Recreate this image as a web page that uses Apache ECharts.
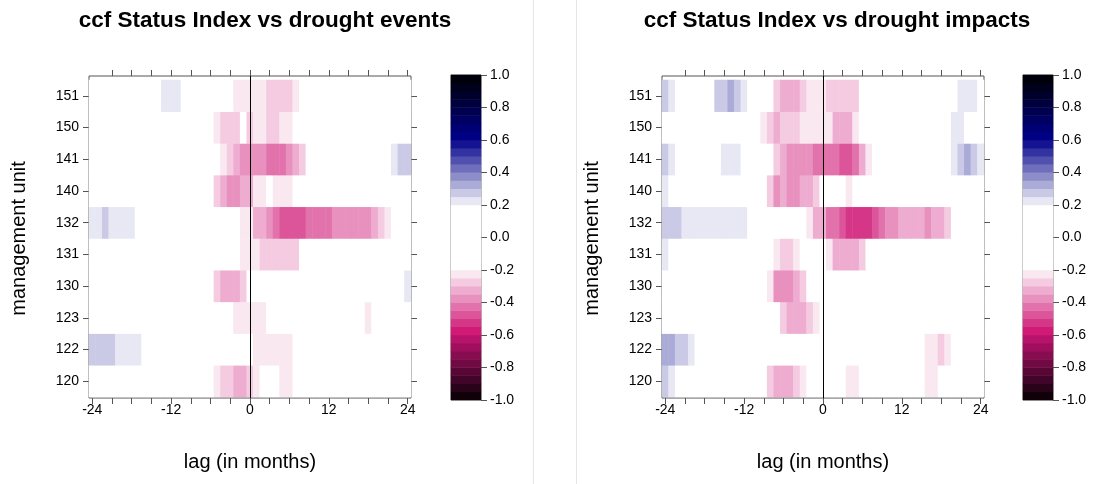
<!DOCTYPE html>
<html>
<head>
<meta charset="utf-8">
<title>ccf Status Index vs drought</title>
<script src="https://cdn.jsdelivr.net/npm/echarts@6/dist/echarts.min.js"></script>
<style>
  html, body { margin: 0; padding: 0; background: #fff; }
  #main { width: 1098px; height: 484px; }
</style>
</head>
<body>
<div id="main"></div>
<script>
// lag in months (x categories) and management units (y categories, bottom -> top)
var lags = ['-24','-23','-22','-21','-20','-19','-18','-17','-16','-15','-14','-13','-12','-11','-10',
            '-9','-8','-7','-6','-5','-4','-3','-2','-1','0','1','2','3','4','5','6','7','8','9','10',
            '11','12','13','14','15','16','17','18','19','20','21','22','23','24'];
var units = ['120', '122', '123', '130', '131', '132', '140', '141', '150', '151'];

// colour key breaks (-1 .. 1 in 0.05 steps)
var levelBreaks = [-1, -0.95, -0.9, -0.85, -0.8, -0.75, -0.7, -0.65, -0.6, -0.55, -0.5, -0.45, -0.4,
                   -0.35, -0.3, -0.25, -0.2, -0.15, -0.1, -0.05, 0, 0.05, 0.1, 0.15, 0.2, 0.25, 0.3,
                   0.35, 0.4, 0.45, 0.5, 0.55, 0.6, 0.65, 0.7, 0.75, 0.8, 0.85, 0.9, 0.95, 1];

// ccf values, one row per unit, lag -24 .. 24 (|r| < 0.2 drawn white)
var events151 = [0,0,0,0,0,0,0, 0,0,0,0,0.22,0.22,0.22, 0,0,0,0,0,0,0,
  0,-0.22,-0.22,-0.22,-0.22,-0.22,-0.27, -0.27,-0.27,-0.27,-0.22,0,0,0, 0,0,0,0,0,0,0, 0,0,0,0,0,0,0];
var events150 = [0,0,0,0,0,0,0, 0,0,0,0,0,0,0, 0,0,0,0,0,-0.22,-0.27,
  -0.27,-0.27,0,-0.27,-0.22,-0.22,-0.27, -0.27,-0.22,-0.22,0,0,0,0, 0,0,0,0,0,0,0, 0,0,0,0,0,0,0];
var events141 = [0,0,0,0,0,0,0, 0,0,0,0,0,0,0, 0,0,0,0,0,0,-0.22,
  -0.27,-0.32,-0.37,-0.37,-0.37,-0.37,-0.42, -0.42,-0.42,-0.37,-0.32,-0.27,0,0, 0,0,0,0,0,0,0, 0,0,0,0,0.22,0.27,0.27];
var events140 = [0,0,0,0,0,0,0, 0,0,0,0,0,0,0, 0,0,0,0,0,-0.27,-0.32,
  -0.37,-0.37,-0.32,-0.32,-0.22,-0.22,0, -0.22,-0.22,-0.22,0,0,0,0, 0,0,0,0,0,0,0, 0,0,0,0,0,0,0];
var events132 = [0.22,0.22,0.27,0.22,0.22,0.22,0.22, 0,0,0,0,0,0,0, 0,0,0,0,0,0,0,
  0,0,-0.22,-0.22,-0.32,-0.32,-0.37, -0.42,-0.47,-0.47,-0.47,-0.47,-0.42,-0.42,
  -0.42,-0.42,-0.37,-0.37,-0.37,-0.37,-0.37, -0.37,-0.32,-0.27,-0.22,0,0,0];
var events131 = [0,0,0,0,0,0,0, 0,0,0,0,0,0,0, 0,0,0,0,0,0,0,
  0,0,-0.22,-0.22,-0.22,-0.27,-0.27, -0.27,-0.27,-0.27,-0.27,0,0,0, 0,0,0,0,0,0,0, 0,0,0,0,0,0,0];
var events130 = [0,0,0,0,0,0,0, 0,0,0,0,0,0,0, 0,0,0,0,0,-0.27,-0.32,
  -0.32,-0.32,-0.27,0,0,0,0, 0,0,0,0,0,0,0, 0,0,0,0,0,0,0, 0,0,0,0,0,0,0.22];
var events123 = [0,0,0,0,0,0,0, 0,0,0,0,0,0,0, 0,0,0,0,0,0,0,
  0,-0.22,-0.22,-0.22,-0.22,-0.22,0, 0,0,0,0,0,0,0, 0,0,0,0,0,0,0, -0.22,0,0,0,0,0,0];
var events122 = [0.27,0.27,0.27,0.27,0.22,0.22,0.22, 0.22,0,0,0,0,0,0, 0,0,0,0,0,0,0,
  0,0,0,0,-0.22,-0.22,-0.22, -0.22,-0.22,-0.22,0,0,0,0, 0,0,0,0,0,0,0, 0,0,0,0,0,0,0];
var events120 = [0,0,0,0,0,0,0, 0,0,0,0,0,0,0, 0,0,0,0,0,-0.22,-0.27,
  -0.27,-0.32,-0.32,-0.27,-0.22,0,0, 0,-0.22,-0.22,0,0,0,0, 0,0,0,0,0,0,0, 0,0,0,0,0,0,0];

var impacts151 = [0.27,0.22,0,0,0,0,0, 0,0.27,0.27,0.32,0.27,0.22,0, 0,0,0,-0.27,-0.32,-0.32,-0.32,
  -0.27,-0.22,-0.22,-0.22,-0.27,-0.27,-0.27, -0.27,-0.27,0,0,0,0,0, 0,0,0,0,0,0,0, 0,0,0,0.22,0.22,0.22,0];
var impacts150 = [0,0,0,0,0,0,0, 0,0,0,0,0,0,0, 0,-0.22,-0.27,-0.32,-0.27,-0.27,-0.27,
  -0.22,-0.22,-0.22,-0.22,-0.22,-0.32,-0.32, -0.32,-0.22,0,0,0,0,0, 0,0,0,0,0,0,0, 0,0,0.22,0.22,0,0,0];
var impacts141 = [0.27,0.22,0,0,0,0,0, 0,0,0.22,0.22,0.22,0,0, 0,0,0,-0.27,-0.32,-0.37,-0.37,
  -0.37,-0.37,-0.42,-0.42,-0.42,-0.42,-0.47, -0.47,-0.42,-0.32,-0.22,0,0,0, 0,0,0,0,0,0,0, 0,0,0.22,0.27,0.32,0.27,0.22];
var impacts140 = [0.22,0,0,0,0,0,0, 0,0,0,0,0,0,0, 0,0,-0.27,-0.37,-0.32,-0.37,-0.37,
  -0.32,-0.32,-0.27,0,0,0,0, -0.22,0,0,0,0,0,0, 0,0,0,0,0,0,0, 0,0,0,0,0,0,0];
var impacts132 = [0.27,0.27,0.27,0.22,0.22,0.22,0.22, 0.22,0.22,0.22,0.22,0.22,0.22,0, 0,0,0,0,0,0,0,
  0,-0.22,-0.32,-0.32,-0.42,-0.42,-0.47, -0.52,-0.52,-0.52,-0.52,-0.47,-0.42,-0.37,
  -0.37,-0.32,-0.32,-0.32,-0.32,-0.37,-0.32, -0.32,-0.27,0,0,0,0,0];
var impacts131 = [0.22,0,0,0,0,0,0, 0,0,0,0,0,0,0, 0,0,0,-0.22,-0.27,-0.27,-0.22,
  0,0,0,0,-0.22,-0.32,-0.32, -0.32,-0.32,-0.27,0,0,0,0, 0,0,0,0,0,0,0, 0,0,0,0,0,0,0];
var impacts130 = [0,0,0,0,0,0,0, 0,0,0,0,0,0,0, 0,0,-0.22,-0.37,-0.37,-0.37,-0.32,
  -0.27,0,0,0,0,0,0, 0,0,0,0,0,0,0, 0,0,0,0,0,0,0, 0,0,0,0,0,0,0];
var impacts123 = [0,0,0,0,0,0,0, 0,0,0,0,0,0,0, 0,0,0,0,-0.27,-0.32,-0.32,
  -0.32,-0.27,-0.22,0,0,0,0, 0,0,0,0,0,0,0, 0,0,0,0,0,0,0, 0,0,0,0,0,0,0];
var impacts122 = [0.32,0.32,0.27,0.27,0.22,0,0, 0,0,0,0,0,0,0, 0,0,0,0,0,0,0,
  0,0,0,0,0,0,0, 0,0,0,0,0,0,0, 0,0,0,0,0,-0.22,-0.22, -0.27,-0.22,0,0,0,0,0];
var impacts120 = [0.27,0.22,0,0,0,0,0, 0,0,0,0,0,0,0, 0,0,-0.27,-0.32,-0.32,-0.32,-0.27,
  -0.22,0,0,0,0,0,0, -0.22,-0.22,0,0,0,0,0, 0,0,0,0,0,-0.22,-0.22, 0,0,0,0,0,0,0];

var eventsRows = [events120, events122, events123, events130, events131, events132, events140, events141, events150, events151];
var impactsRows = [impacts120, impacts122, impacts123, impacts130, impacts131, impacts132, impacts140, impacts141, impacts150, impacts151];

// one colour per 0.05 band, from -1 up to 1
var levelColors = [
  '#100109', '#28031a', '#400528', '#580735', '#700a42', '#880c50', '#a00f5d', '#b8136a',
  '#d01a76', '#d63687', '#dc5499', '#e272ab', '#e890be', '#eeadd0', '#f4cbe1', '#fae8f1',
  '#ffffff', '#ffffff', '#ffffff', '#ffffff', '#ffffff', '#ffffff', '#ffffff', '#ffffff',
  '#e8e8f4', '#cacae6', '#ababd8', '#8d8dca', '#6e6ebc', '#5050ae', '#3232a0', '#141492',
  '#000084', '#000074', '#000062', '#000050', '#00003e', '#00002c', '#00001a', '#00000a'
];

var myChart = echarts.init(document.getElementById('main'), null, {renderer: 'canvas'});

var fontFamily = 'Liberation Sans, Arial, Helvetica, sans-serif';
var axisGray = '#555555';

var heatData = function (rows) {
    var out = [];
    rows.forEach(function (row, y) {
        row.forEach(function (v, x) {
            out.push([x, y, v]);
        });
    });
    return out;
};

// colour key as its own little heatmap
var levelNames = [], keyData = [];
for (var k = 0; k < levelColors.length; k++) {
    levelNames.push(String(levelBreaks[k]));
    keyData.push([0, k, (levelBreaks[k] + levelBreaks[k + 1]) / 2]);
}

var pieces = levelColors.map(function (c, i) {
    var p = {gte: levelBreaks[i], color: c};
    if (i === levelColors.length - 1) p.lte = levelBreaks[i + 1];
    else p.lt = levelBreaks[i + 1];
    return p;
});

var panels = [
    {title: 'ccf Status Index vs drought events', rows: eventsRows, left: 89, keyLeft: 451, titleX: 260},
    {title: 'ccf Status Index vs drought impacts', rows: impactsRows, left: 662, keyLeft: 1023, titleX: 832}
];

var grid = [], xAxis = [], yAxis = [], series = [], title = [], heatIdx = [];

var labelStyle = {color: '#000', fontSize: 14, fontFamily: fontFamily};
var nameStyle = {color: '#000', fontSize: 20, fontFamily: fontFamily};
var tick = {show: true, alignWithLabel: true, length: 6, lineStyle: {color: axisGray, width: 1}};

panels.forEach(function (p) {
    var g = grid.length, xa = xAxis.length, ya = yAxis.length;

    title.push({
        text: p.title, left: p.titleX, top: 4, textAlign: 'center',
        textStyle: {color: '#000', fontSize: 22.5, fontWeight: 'bold', fontFamily: fontFamily}
    });

    grid.push({left: p.left, top: 80, width: 322, height: 317});
    grid.push({left: p.left, top: 76, width: 322, height: 322, show: true,
        borderColor: axisGray, borderWidth: 1, backgroundColor: 'transparent'});
    grid.push({left: p.keyLeft, top: 75, width: 30, height: 325, show: true,
        borderColor: '#777', borderWidth: 1, backgroundColor: 'transparent'});

    xAxis.push({gridIndex: g, type: 'category', data: lags, show: false});
    xAxis.push({
        gridIndex: g + 1, type: 'category', data: lags, position: 'bottom',
        axisLine: {show: false},
        axisTick: Object.assign({}, tick, {interval: function (i, v) { return (+v) % 3 === 0; }}),
        axisLabel: Object.assign({margin: 5, interval: function (i, v) { return (+v) % 12 === 0; }}, labelStyle),
        name: 'lag (in months)', nameLocation: 'middle', nameGap: 54, nameTextStyle: nameStyle
    });
    xAxis.push({
        gridIndex: g + 1, type: 'category', data: lags, position: 'top',
        axisLine: {show: false},
        axisTick: Object.assign({}, tick, {interval: function (i, v) { return (+v) % 3 === 0 && +v !== -24; }}),
        axisLabel: {show: false}
    });
    xAxis.push({gridIndex: g + 2, type: 'category', data: ['key'], show: false});

    yAxis.push({
        gridIndex: g, type: 'category', data: units, position: 'left',
        axisLine: {show: false},
        axisTick: tick,
        axisLabel: Object.assign({margin: 10}, labelStyle),
        name: 'management unit', nameLocation: 'middle', nameRotate: 90, nameGap: 60,
        nameTextStyle: nameStyle
    });
    yAxis.push({
        gridIndex: g, type: 'category', data: units, position: 'right',
        axisLine: {show: false},
        axisTick: tick,
        axisLabel: {show: false}
    });
    yAxis.push({gridIndex: g + 1, type: 'value', min: 0, max: 1, show: false});
    yAxis.push({gridIndex: g + 2, type: 'category', data: levelNames, show: false});
    yAxis.push({
        gridIndex: g + 2, type: 'value', min: -1, max: 1, interval: 0.2, position: 'right',
        axisLine: {show: false}, splitLine: {show: false},
        axisTick: {show: true, length: 6, lineStyle: {color: axisGray}},
        axisLabel: Object.assign({margin: 9, formatter: function (v) { return v.toFixed(1); }}, labelStyle)
    });

    heatIdx.push(series.length);
    series.push({
        type: 'heatmap', xAxisIndex: xa, yAxisIndex: ya, data: heatData(p.rows),
        itemStyle: {borderWidth: 0}, emphasis: {disabled: true}, progressive: 0
    });
    series.push({
        type: 'line', xAxisIndex: xa + 1, yAxisIndex: ya + 2, data: [], silent: true,
        markLine: {
            silent: true, symbol: ['none', 'none'], label: {show: false}, animation: false,
            lineStyle: {color: '#000', width: 1, type: 'solid'},
            data: [{xAxis: '0'}]
        }
    });
    heatIdx.push(series.length);
    series.push({
        type: 'heatmap', xAxisIndex: xa + 3, yAxisIndex: ya + 3, data: keyData,
        itemStyle: {borderWidth: 0}, emphasis: {disabled: true}, progressive: 0
    });
});

myChart.setOption({
    backgroundColor: '#fff',
    animation: false,
    title: title,
    grid: grid,
    xAxis: xAxis,
    yAxis: yAxis,
    visualMap: {
        type: 'piecewise', show: false, seriesIndex: heatIdx, dimension: 2,
        pieces: pieces
    },
    graphic: [
        {type: 'line', shape: {x1: 533.5, y1: 0, x2: 533.5, y2: 484}, style: {stroke: '#e6e6e6', lineWidth: 1}, silent: true},
        {type: 'line', shape: {x1: 576.5, y1: 0, x2: 576.5, y2: 484}, style: {stroke: '#e6e6e6', lineWidth: 1}, silent: true}
    ],
    series: series
});

window.onresize = myChart.resize;
</script>
</body>
</html>
